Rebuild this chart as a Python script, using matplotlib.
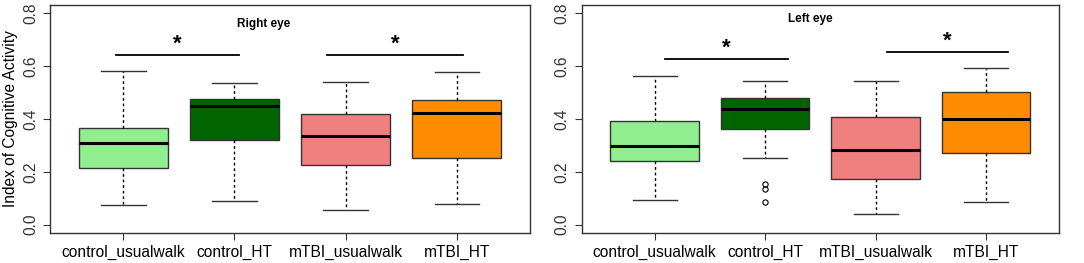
import matplotlib
matplotlib.use("Agg")
import matplotlib.pyplot as plt

plt.rcParams['font.family'] = ['Liberation Sans', 'DejaVu Sans']

groups = ['control_usualwalk', 'control_HT', 'mTBI_usualwalk', 'mTBI_HT']
colors = ['#90EE90', '#006400', '#F08080', '#FF8C00']

# whislo, q1, median, q3, whishi
right_eye = [
    [0.074, 0.214, 0.309, 0.366, 0.582],
    [0.091, 0.322, 0.448, 0.475, 0.536],
    [0.057, 0.225, 0.335, 0.420, 0.542],
    [0.077, 0.253, 0.424, 0.473, 0.580],
]
right_fliers = [[], [], [], []]

left_eye = [
    [0.092, 0.240, 0.297, 0.391, 0.562],
    [0.253, 0.361, 0.439, 0.480, 0.545],
    [0.039, 0.171, 0.282, 0.408, 0.543],
    [0.087, 0.270, 0.399, 0.504, 0.594],
]
left_fliers = [[], [0.155, 0.133, 0.086], [], []]

# significance bars: (x start, x end, height)
right_sig = [(0.93, 2.04, 0.643), (2.83, 4.06, 0.643)]
left_sig = [(1.09, 2.21, 0.629), (3.1, 4.2, 0.654)]

fig = plt.figure(figsize=(10.84, 2.63), dpi=100)
ax1 = fig.add_axes([0.0461, 0.114, 0.443, 0.867])
ax2 = fig.add_axes([0.5366, 0.114, 0.4404, 0.867])

edge = '#333333'


def draw(ax, stats, fliers, sig):
    bxs = []
    for s, f in zip(stats, fliers):
        bxs.append(dict(whislo=s[0], q1=s[1], med=s[2], q3=s[3], whishi=s[4], fliers=f))
    parts = ax.bxp(bxs, positions=[1, 2, 3, 4], widths=0.8, patch_artist=True,
                   showfliers=True,
                   boxprops=dict(edgecolor=edge, linewidth=1.0),
                   medianprops=dict(color='black', linewidth=2.2),
                   whiskerprops=dict(color='black', linestyle=(0, (2, 2)), linewidth=1.0),
                   capprops=dict(color=edge, linewidth=1.0),
                   flierprops=dict(marker='o', markerfacecolor='none', markeredgecolor='black',
                                   markersize=3.8, markeredgewidth=0.8))
    for patch, c in zip(parts['boxes'], colors):
        patch.set_facecolor(c)
    for cap in parts['caps']:
        x0, x1 = cap.get_xdata()
        xm = (x0 + x1) / 2
        cap.set_xdata([xm - 0.2, xm + 0.2])
    for x0, x1, h in sig:
        ax.plot([x0, x1], [h, h], color='black', linewidth=1.3)
        ax.text((x0 + x1) / 2, h + 0.0, '*', ha='center', va='bottom', fontsize=16,
                fontweight='bold')
    ax.set_xlim(0.34, 4.66)
    ax.set_ylim(-0.032, 0.832)
    ax.set_yticks([0.0, 0.2, 0.4, 0.6, 0.8])
    ax.set_yticklabels(['0.0', '0.2', '0.4', '0.6', '0.8'], rotation=90, va='center')
    ax.set_xticks([1, 2, 3, 4])
    ax.set_xticklabels(groups, fontsize=11.2)
    ax.tick_params(axis='y', labelsize=11.2, length=5, colors=edge, labelcolor=edge)
    ax.tick_params(axis='x', length=5, colors=edge, labelcolor='black')
    for sp in ax.spines.values():
        sp.set_color(edge)
        sp.set_linewidth(1.0)


draw(ax1, right_eye, right_fliers, right_sig)
draw(ax2, left_eye, left_fliers, left_sig)
ax1.text(2.26, 0.76, 'Right eye', ha='center', va='center', fontsize=8.5, fontweight='bold')
ax2.text(2.41, 0.778, 'Left eye', ha='center', va='center', fontsize=8.5, fontweight='bold')
ax1.set_ylabel('Index of Cognitive Activity', fontsize=11.2, labelpad=4)

fig.savefig('out.png', dpi=100)
